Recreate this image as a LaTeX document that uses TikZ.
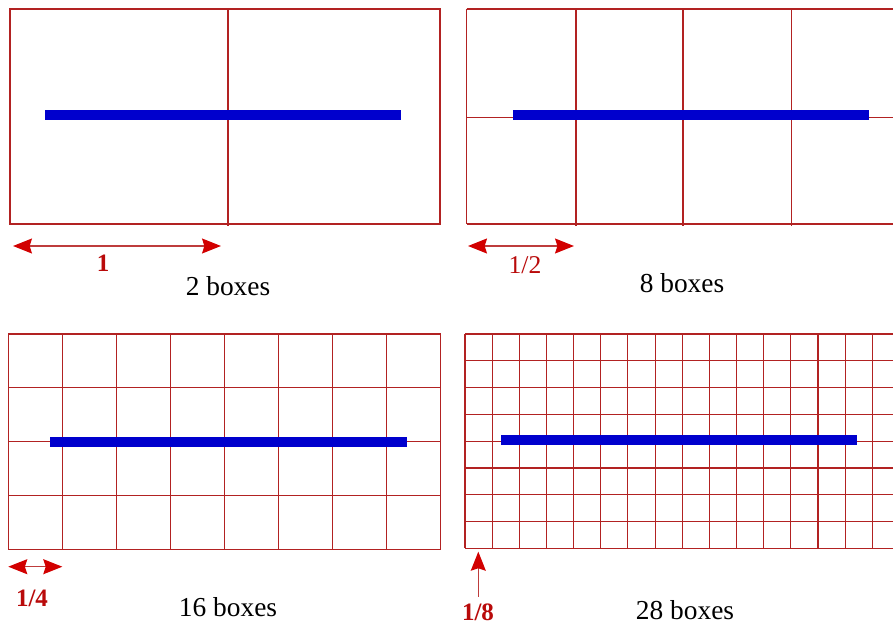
\documentclass[tikz,border=0pt]{standalone}
\usepackage{fontspec}
\setmainfont{Liberation Serif}
\usetikzlibrary{arrows.meta}
\definecolor{gridred}{RGB}{178,34,34}
\definecolor{headred}{RGB}{210,0,0}
\definecolor{shaftred}{RGB}{190,60,60}
\definecolor{labred}{RGB}{185,10,10}
\definecolor{barblue}{RGB}{0,0,205}
\tikzset{
  tiphead/.tip={Stealth[length=9.5pt,width=7.5pt,inset=1.2pt,color=headred,fill=headred]},
  gridline/.style={draw=gridred, line width=0.55pt},
  bar/.style={fill=barblue, draw=none},
  dimarrow/.style={draw=shaftred, line width=0.6pt, tiphead-tiphead},
  uparrow/.style={draw=shaftred, line width=0.6pt, -tiphead},
  dimlabel/.style={text=labred, font=\fontsize{12.5}{15}\selectfont\bfseries, inner sep=0pt},
  caption/.style={text=black, font=\fontsize{13.7}{16}\selectfont, inner sep=0pt}
}
\begin{document}
\begin{tikzpicture}[x=0.5pt,y=-0.5pt]
\path[use as bounding box] (0,0) rectangle (893,626);
\clip (0,0) rectangle (893,626);
\fill[white] (0,0) rectangle (893,626);

% ---------- Panel 1: 2 boxes ----------
\draw[gridline] (10,9) rectangle (440,224);
\draw[gridline] (228,9) -- (228,226);
\fill[bar] (44.7,110) rectangle (401,120);
\coordinate (a1l) at (13,246);
\coordinate (a1r) at (221,246);
\draw[dimarrow] (a1l) -- (a1r);
\node[dimlabel] (l1) at (103,263) {1};
\node[caption] (c1) at (228,286) {2 boxes};

% ---------- Panel 2: 8 boxes ----------
\draw[gridline] (466.7,9) -- (900,9);
\draw[gridline] (466.7,224) -- (900,224);
\draw[gridline] (466.7,117.7) -- (900,117.7);
\draw[gridline] (466.7,9) -- (466.7,224);
\foreach \x in {576,683,791.7}{
  \draw[gridline] (\x,9) -- (\x,226);
}
\fill[bar] (512.7,110) rectangle (869,120);
\coordinate (a2l) at (468,246);
\coordinate (a2r) at (574,246);
\draw[dimarrow] (a2l) -- (a2r);
\node[dimlabel, font=\fontsize{12.8}{15}\selectfont] (l2) at (525,265) {1/2};
\node[caption] (c2) at (682,283) {8 boxes};

% ---------- Panel 3: 16 boxes ----------
\foreach \i in {0,...,8}{
  \draw[gridline] ({8.3+54.05*\i},334) -- ({8.3+54.05*\i},549.3);
}
\foreach \j in {0,...,4}{
  \draw[gridline] (8.3,{334+53.83*\j}) -- (440.7,{334+53.83*\j});
}
\fill[bar] (50,436.7) rectangle (406.7,446.7);
\coordinate (a3l) at (8.3,566.7);
\coordinate (a3r) at (62.3,566.7);
\draw[dimarrow] (a3l) -- (a3r);
\node[dimlabel] (l3) at (32,598) {1/4};
\node[caption] (c3) at (228,606.7) {16 boxes};

% ---------- Panel 4: 28 boxes ----------
\foreach \i in {0,...,16}{
  \draw[gridline] ({465+27.15*\i},334) -- ({465+27.15*\i},548.3);
}
\foreach \j in {0,...,8}{
  \draw[gridline] (465,{334+26.79*\j}) -- (900,{334+26.79*\j});
}
\fill[bar] (501,435) rectangle (857.3,445);
\coordinate (a4b) at (478.3,596.7);
\coordinate (a4t) at (478.3,551.7);
\draw[uparrow] (a4b) -- (a4t);
\node[dimlabel] (l4) at (478,612) {1/8};
\node[caption] (c4) at (685,610) {28 boxes};
\end{tikzpicture}
\end{document}
